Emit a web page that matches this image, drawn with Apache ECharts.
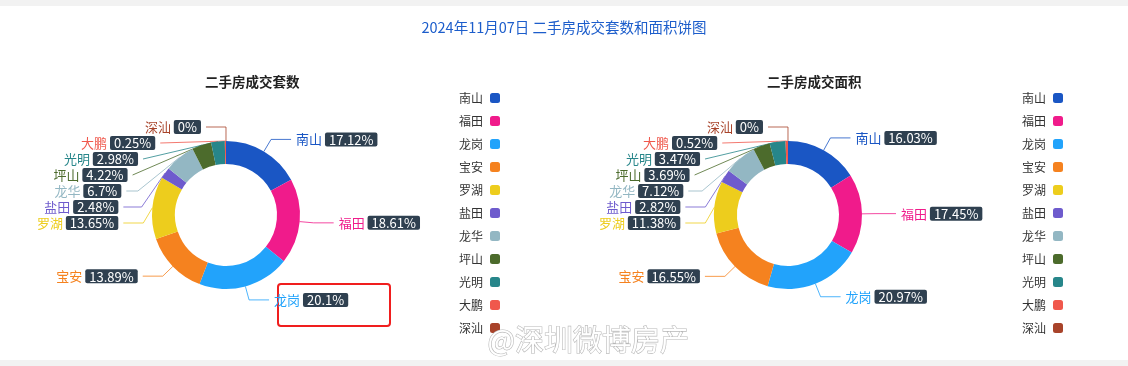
<!DOCTYPE html>
<html><head><meta charset="utf-8">
<script src="https://cdn.jsdelivr.net/npm/echarts@6/dist/echarts.min.js"></script>
<style>html,body{margin:0;padding:0;background:#fff;}#c{width:1128px;height:366px;}</style>
</head><body><div id="c"></div>
<script>
const districts = ['南山','福田','龙岗','宝安','罗湖','盐田','龙华','坪山','光明','大鹏','深汕'];
const colors = ['#1a56c4','#f01b8b','#22a3fb','#f5821f','#edcd1d','#6e5bcd','#93b7c3','#4c6b2c','#27868a','#f0584c','#a8432a'];
const countPct = [17.12,18.61,20.1,13.89,13.65,2.48,6.7,4.22,2.98,0.25,0];
const areaPct = [16.03,17.45,20.97,16.55,11.38,2.82,7.12,3.69,3.47,0.52,0];
const mainTitle = '2024年11月07日 二手房成交套数和面积饼图';
const subTitles = ['二手房成交套数','二手房成交面积'];
const watermark = '@深圳微博房产';

const FONT = '"Noto Sans CJK SC", "Noto Sans", sans-serif';
function mkData(vals){
  return districts.map((n,i)=>({name:n,value:vals[i],label:{color:colors[i]}}));
}
function pie(idx, vals, cx){
  return {
    type:'pie', name: subTitles[idx], center:[cx,215], radius:[51,74],
    startAngle:90.01, clockwise:true, avoidLabelOverlap:true,
    data: mkData(vals),
    label:{show:true, position:'outside', fontFamily:FONT, fontSize:13, lineHeight:13,
      formatter:'{n|{b}} {v|{c}%}',
      rich:{n:{fontSize:13,fontFamily:FONT,lineHeight:13},
            v:{color:'#fff',backgroundColor:'#2f4050',padding:[1,4,0,4],borderRadius:2,fontSize:13,lineHeight:13,fontFamily:FONT}}},
    labelLine:{show:true,length:14,length2:20,lineStyle:{width:1,opacity:0.8}},
    emphasis:{scale:false}
  };
}
const chart = echarts.init(document.getElementById('c'));
chart.setOption({
  color: colors,
  animation:false,
  title:[
    {text:mainTitle,left:'center',top:15,textStyle:{color:'#1c5dcb',fontSize:14.5,fontWeight:'normal',fontFamily:FONT}},
    {text:subTitles[0],left:200,top:70,textStyle:{color:'#222',fontSize:13.5,fontWeight:'bold',fontFamily:FONT}},
    {text:subTitles[1],left:762,top:70,textStyle:{color:'#222',fontSize:13.5,fontWeight:'bold',fontFamily:FONT}}
  ],
  legend:[
    {orient:'vertical',right:623,top:87,align:'right',itemWidth:10,itemHeight:10,itemGap:11,icon:'roundRect',
     textStyle:{color:'#333',fontSize:12,fontFamily:FONT,padding:[0,2,0,0]},data:districts},
    {orient:'vertical',right:60,top:87,align:'right',itemWidth:10,itemHeight:10,itemGap:11,icon:'roundRect',
     textStyle:{color:'#333',fontSize:12,fontFamily:FONT,padding:[0,2,0,0]},data:districts}
  ],
  graphic:[
    {type:'rect',shape:{x:0,y:0,width:1128,height:6},style:{fill:'#f2f2f2'},silent:true},
    {type:'rect',shape:{x:0,y:360,width:1128,height:6},style:{fill:'#f2f2f2'},silent:true},
    {type:'rect',shape:{x:278,y:284,width:112,height:42,r:3},style:{fill:'none',stroke:'#f01e1e',lineWidth:2},silent:true},
    {type:'text',left:487,top:325,style:{text:watermark,fill:'#ffffff',stroke:'#b8b8b8',lineWidth:1.2,fontSize:29,fontFamily:FONT,shadowColor:'rgba(0,0,0,0.3)',shadowBlur:4},silent:true,z:100}
  ],
  series:[pie(0,countPct,226), pie(1,areaPct,788)]
});
</script></body></html>
